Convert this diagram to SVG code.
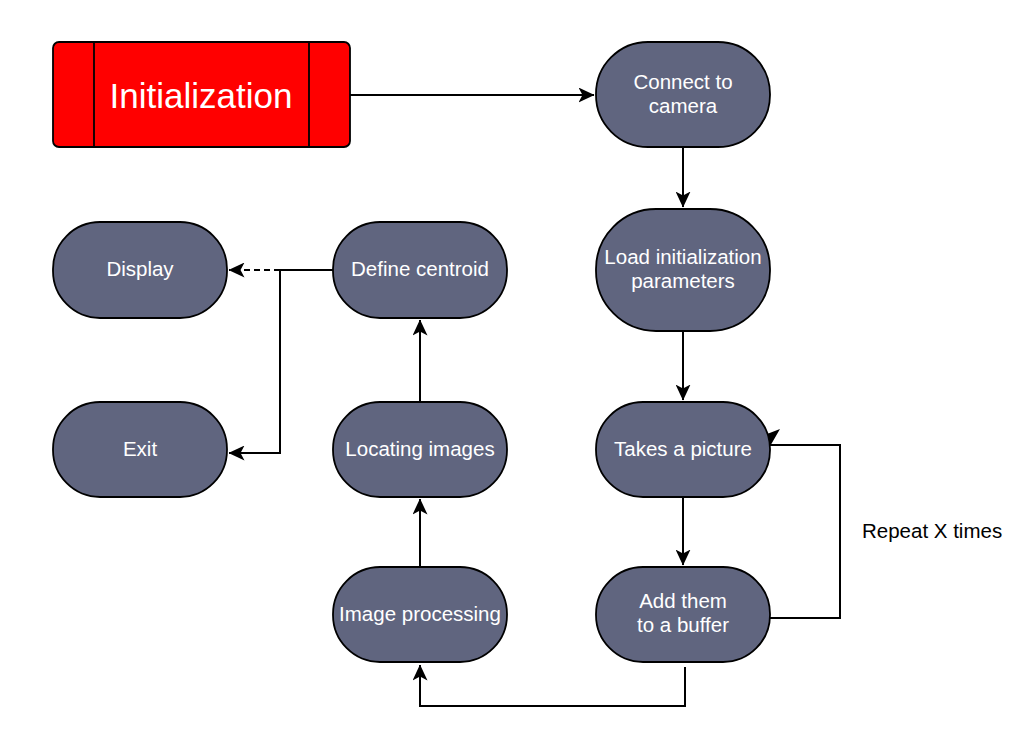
<svg xmlns="http://www.w3.org/2000/svg" width="1029" height="740" viewBox="0 0 1029 740">
<style>
.node{fill:#60657f;stroke:#000;stroke-width:1.8}
.t{font-family:"Liberation Sans",Arial,sans-serif;font-size:20.5px;fill:#fff;text-anchor:middle}
.c{fill:none;stroke:#000;stroke-width:2}
.lbl{font-family:"Liberation Sans",Arial,sans-serif;font-size:20.5px;fill:#000}
</style>
<defs>
<marker id="ah" viewBox="0 0 16 15" refX="15.5" refY="7.5" markerWidth="16" markerHeight="15" markerUnits="userSpaceOnUse" orient="auto">
<path d="M0,0 L16,7.5 L0,15 L4,7.5 Z" fill="#000"/>
</marker>
</defs>
<rect width="1029" height="740" fill="#fff"/>
<g id="connectors">
<path class="c" d="M350,95 L594,95" marker-end="url(#ah)"/>
<path class="c" d="M683,147 L683,207" marker-end="url(#ah)"/>
<path class="c" d="M683,331 L683,400" marker-end="url(#ah)"/>
<path class="c" d="M683,497 L683,565" marker-end="url(#ah)"/>
<path class="c" d="M770,618 L840,618 L840,445 L770,445"/>
<path d="M769,448 L759,429 L767,434 L780,429 Z" fill="#000"/>
<path class="c" d="M685,667 L685,706 L420,706 L420,665" marker-end="url(#ah)"/>
<path class="c" d="M420,567 L420,499" marker-end="url(#ah)"/>
<path class="c" d="M420,402 L420,320" marker-end="url(#ah)"/>
<path class="c" d="M333,270 L280,270"/>
<path class="c" d="M280,270 L229,270" stroke-dasharray="6,4" marker-end="url(#ah)"/>
<path class="c" d="M280,270 L280,453 L229,453" marker-end="url(#ah)"/>
</g>
<g id="init">
<rect x="53" y="42" width="297" height="105" rx="6" fill="#ff0000" stroke="#000" stroke-width="1.8"/>
<line x1="94" y1="42" x2="94" y2="147" stroke="#000" stroke-width="1.8"/>
<line x1="309" y1="42" x2="309" y2="147" stroke="#000" stroke-width="1.8"/>
<text x="201" y="108" font-family="Liberation Sans,Arial,sans-serif" font-size="35" fill="#fff" text-anchor="middle">Initialization</text>
</g>
<g id="connect">
<rect class="node" x="596" y="42" width="174" height="105" rx="52" ry="52"/>
<text class="t" x="683" y="89">Connect to</text>
<text class="t" x="683" y="113">camera</text>
</g>
<g id="load">
<rect class="node" x="596" y="209" width="174" height="122" rx="60" ry="60"/>
<text class="t" x="683" y="264">Load initialization</text>
<text class="t" x="683" y="288">parameters</text>
</g>
<g id="takes">
<rect class="node" x="596" y="402" width="174" height="95" rx="47" ry="47"/>
<text class="t" x="683" y="456">Takes a picture</text>
</g>
<g id="add">
<rect class="node" x="596" y="567" width="174" height="95" rx="47" ry="47"/>
<text class="t" x="683" y="608">Add them</text>
<text class="t" x="683" y="632">to a buffer</text>
</g>
<g id="imgproc">
<rect class="node" x="333" y="567" width="174" height="95" rx="47" ry="47"/>
<text class="t" x="420" y="621">Image processing</text>
</g>
<g id="locating">
<rect class="node" x="333" y="402" width="174" height="95" rx="47" ry="47"/>
<text class="t" x="420" y="456">Locating images</text>
</g>
<g id="centroid">
<rect class="node" x="333" y="222" width="174" height="96" rx="47" ry="47"/>
<text class="t" x="420" y="276">Define centroid</text>
</g>
<g id="display">
<rect class="node" x="53" y="222" width="174" height="96" rx="47" ry="47"/>
<text class="t" x="140" y="276">Display</text>
</g>
<g id="exit">
<rect class="node" x="53" y="402" width="174" height="95" rx="47" ry="47"/>
<text class="t" x="140" y="456">Exit</text>
</g>
<text class="lbl" x="862" y="538">Repeat X times</text>
</svg>
